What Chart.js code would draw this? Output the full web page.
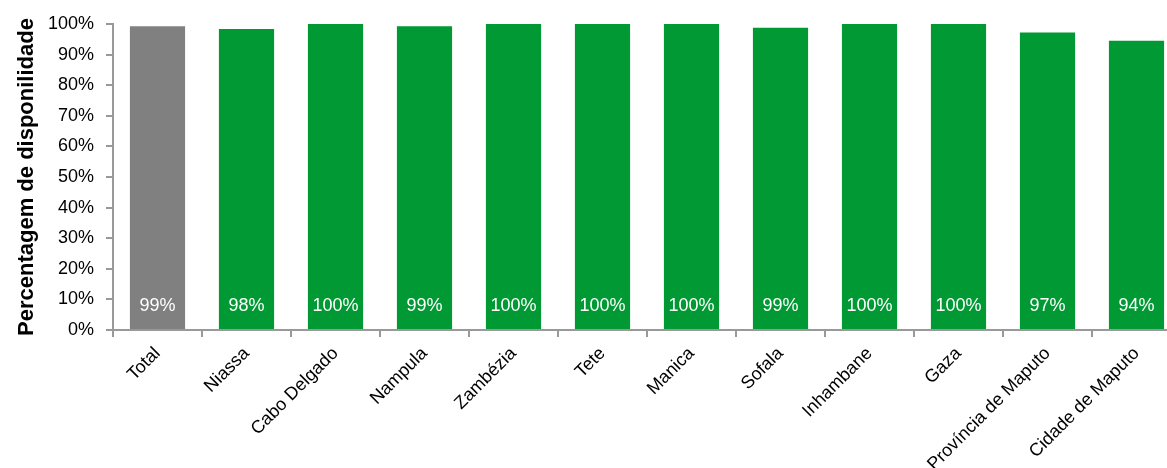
<!DOCTYPE html>
<html>
<head>
<meta charset="utf-8">
<script src="https://cdn.jsdelivr.net/npm/chart.js@4/dist/chart.umd.min.js"></script>
<style>
html,body{margin:0;padding:0;background:#fff;overflow:hidden;}
#wrap{position:relative;width:1184px;height:468px;}
</style>
</head>
<body>
<div id="wrap"><canvas id="c"></canvas></div>
<script>
const categories = ["Total","Niassa","Cabo Delgado","Nampula","Zambézia","Tete","Manica","Sofala","Inhambane","Gaza","Província de Maputo","Cidade de Maputo"];
const values = [99.3, 98.4, 100, 99.3, 100, 100, 100, 98.8, 100, 100, 97.2, 94.5];
const valueLabels = ["99%","98%","100%","99%","100%","100%","100%","99%","100%","100%","97%","94%"];
const barColors = ["#808080","#009933","#009933","#009933","#009933","#009933","#009933","#009933","#009933","#009933","#009933","#009933"];
const yTicks = [0,10,20,30,40,50,60,70,80,90,100];
const yTitle = "Percentagem de disponilidade";

const labelPlugin = {
  id: 'barLabels',
  afterDatasetsDraw(chart) {
    const ctx = chart.ctx;
    const meta = chart.getDatasetMeta(0);
    const y = chart.scales.y.getPixelForValue(7.7);
    ctx.save();
    ctx.fillStyle = '#ffffff';
    ctx.font = '18px "Liberation Sans", Arial, sans-serif';
    ctx.textAlign = 'center';
    ctx.textBaseline = 'middle';
    meta.data.forEach((bar, i) => {
      ctx.fillText(valueLabels[i], bar.x, y);
    });
    ctx.restore();
  }
};

new Chart(document.getElementById('c'), {
  type: 'bar',
  data: {
    labels: categories,
    datasets: [{
      data: values,
      backgroundColor: barColors,
      borderWidth: 0,
      categoryPercentage: 1.0,
      barPercentage: 0.62
    }]
  },
  plugins: [labelPlugin],
  options: {
    responsive: true,
    maintainAspectRatio: false,
    animation: false,
    layout: { padding: { top: 24, right: 3, bottom: 0, left: 14 } },
    plugins: { legend: { display: false }, tooltip: { enabled: false } },
    scales: {
      x: {
        grid: { drawOnChartArea: false, drawTicks: true, tickLength: 7, color: '#999999', lineWidth: 2, offset: true },
        border: { color: '#999999', width: 2 },
        ticks: {
          color: '#000000',
          font: { family: '"Liberation Sans", Arial, sans-serif', size: 18 },
          minRotation: 45, maxRotation: 45, autoSkip: false, padding: 6
        },
        afterFit(scale) { scale.height = 138; }
      },
      y: {
        min: 0, max: 100,
        afterBuildTicks(scale) { scale.ticks = yTicks.map(v => ({ value: v })); },
        grid: { drawOnChartArea: false, drawTicks: true, tickLength: 7, color: '#999999', lineWidth: 2 },
        border: { color: '#999999', width: 2 },
        ticks: {
          color: '#000000',
          font: { family: '"Liberation Sans", Arial, sans-serif', size: 18 },
          padding: 12,
          callback: v => v + '%'
        },
        title: {
          display: true,
          text: yTitle,
          color: '#000000',
          font: { family: '"Liberation Sans", Arial, sans-serif', size: 22, weight: 'bold' },
          padding: { top: 0, bottom: 4 }
        },
        afterFit(scale) { scale.width = 99; }
      }
    }
  }
});
</script>
</body>
</html>
